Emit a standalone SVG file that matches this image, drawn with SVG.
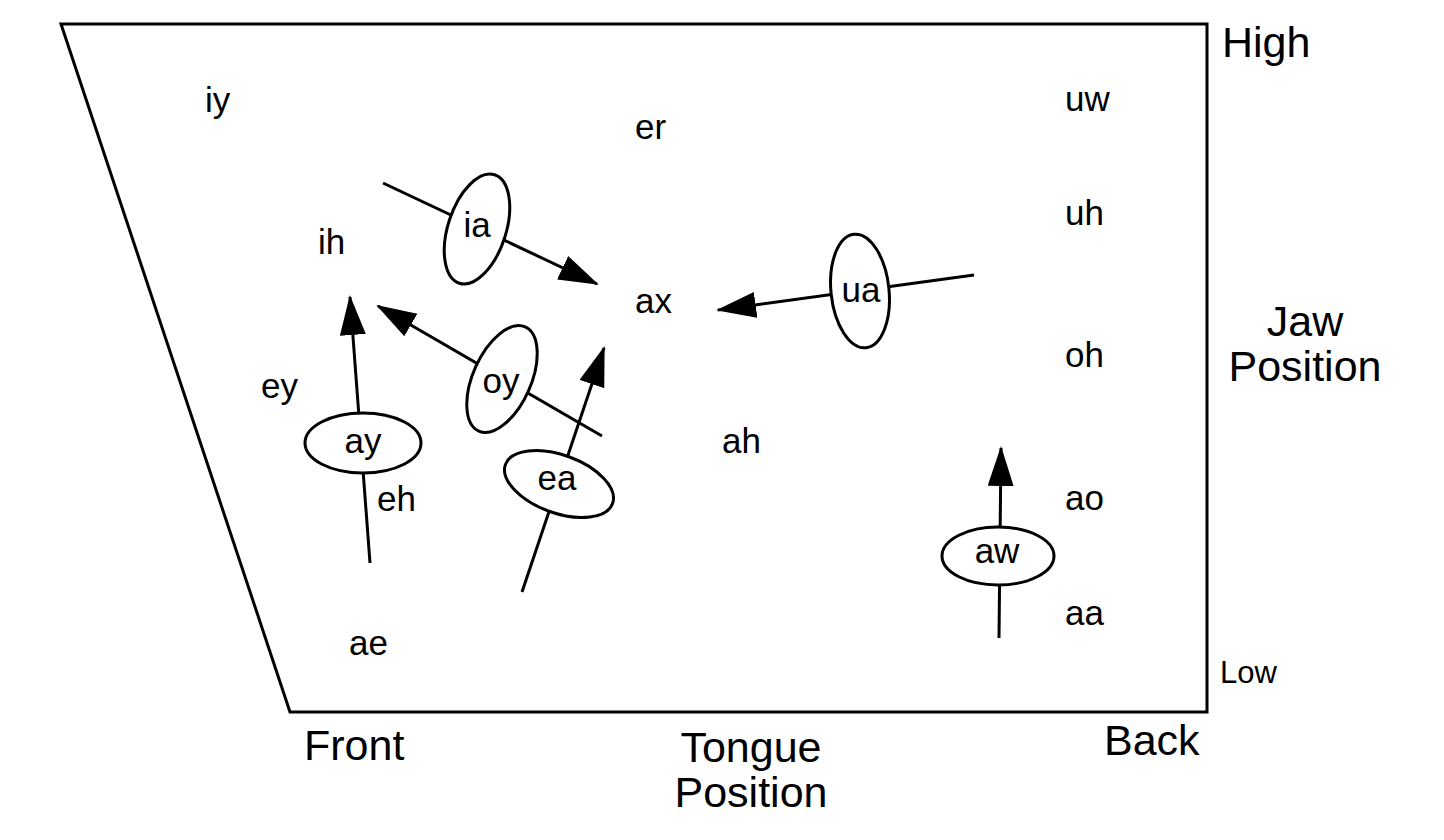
<svg xmlns="http://www.w3.org/2000/svg" width="1444" height="840" viewBox="0 0 1444 840">
<style>
text{font-family:"Liberation Sans",Arial,sans-serif;fill:#000}
.v{font-size:35px}
.ax{font-size:43px}
.lo{font-size:31px}
.c{text-anchor:middle}
.e{fill:#fff;stroke:#000;stroke-width:3}
.ln{stroke:#000;stroke-width:3;fill:none;marker-end:url(#ah)}
.pl{stroke:#000;stroke-width:3;fill:none}
</style>
<defs>
<marker id="ah" markerUnits="userSpaceOnUse" markerWidth="42" markerHeight="28" refX="38" refY="13" orient="auto" viewBox="0 0 42 28">
<path d="M0,0 L40,13 L0,26 Z" fill="#000"/>
</marker>
</defs>
<rect width="1444" height="840" fill="#fff"/>
<g id="chart">
<polygon class="pl" points="61,24 1207,24 1207,712 290,712"/>
</g>
<g id="labels">
<text class="ax" x="1222" y="57">High</text>
<text class="lo" x="1220" y="683">Low</text>
<text class="ax c" x="1305" y="336">Jaw</text>
<text class="ax c" x="1305" y="381">Position</text>
<text class="ax" x="304" y="760">Front</text>
<text class="ax c" x="751" y="762">Tongue</text>
<text class="ax c" x="751" y="807">Position</text>
<text class="ax" x="1104" y="755">Back</text>
</g>
<g id="vowels">
<text class="v" x="205" y="112">iy</text>
<text class="v" x="635" y="139">er</text>
<text class="v" x="1065" y="111">uw</text>
<text class="v" x="1065" y="225">uh</text>
<text class="v" x="318" y="254">ih</text>
<text class="v" x="635" y="313">ax</text>
<text class="v" x="1065" y="367">oh</text>
<text class="v" x="261" y="398">ey</text>
<text class="v" x="722" y="453">ah</text>
<text class="v" x="377" y="511">eh</text>
<text class="v" x="1065" y="510">ao</text>
<text class="v" x="1065" y="625">aa</text>
<text class="v" x="349" y="655">ae</text>
</g>
<g id="connectors">
<line class="ln" x1="383" y1="183" x2="597" y2="284"/>
<line class="ln" x1="974" y1="275" x2="718" y2="310"/>
<line class="ln" x1="602" y1="436" x2="378" y2="306"/>
<line class="ln" x1="370" y1="563" x2="350" y2="297"/>
<line class="ln" x1="522" y1="592" x2="604" y2="348"/>
<line class="ln" x1="999" y1="638" x2="1001" y2="448"/>
</g>
<g id="ia">
<ellipse class="e" cx="477" cy="229" rx="29" ry="57" transform="rotate(18 477 229)"/>
<text class="v c" x="477" y="237">ia</text>
</g>
<g id="ua">
<ellipse class="e" cx="860" cy="291" rx="29" ry="57" transform="rotate(-6 860 291)"/>
<text class="v c" x="861" y="302">ua</text>
</g>
<g id="oy">
<ellipse class="e" cx="502" cy="379" rx="29" ry="57" transform="rotate(24 502 379)"/>
<text class="v c" x="501" y="393">oy</text>
</g>
<g id="ay">
<ellipse class="e" cx="363" cy="443" rx="58" ry="30"/>
<text class="v c" x="363" y="453">ay</text>
</g>
<g id="ea">
<ellipse class="e" cx="559" cy="484" rx="57" ry="29" transform="rotate(20 559 484)"/>
<text class="v c" x="557" y="490">ea</text>
</g>
<g id="aw">
<ellipse class="e" cx="998" cy="556" rx="56" ry="29"/>
<text class="v c" x="997" y="563">aw</text>
</g>
</svg>
